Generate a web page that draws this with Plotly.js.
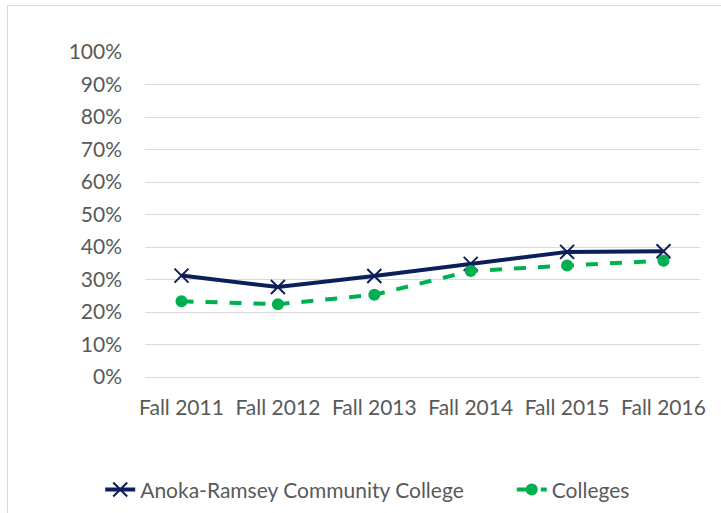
<!DOCTYPE html>
<html>
<head>
<meta charset="utf-8">
<script src="https://cdn.plot.ly/plotly-3.0.1.min.js"></script>
<style>
  html, body { margin: 0; padding: 0; background: #fff; overflow: hidden; }
  #frame { position: absolute; left: 7px; top: 5px; width: 730px; height: 530px; border: 1px solid #d9d9d9; box-sizing: border-box; }
  #chart { position: absolute; left: 0; top: 0; width: 721px; height: 513px; }
</style>
</head>
<body>
<div id="frame"></div>
<div id="chart"></div>
<script>
const categories = ["Fall 2011", "Fall 2012", "Fall 2013", "Fall 2014", "Fall 2015", "Fall 2016"];
const seriesNames = ["Anoka-Ramsey Community College", "Colleges"];
const anokaRamsey = [0.312, 0.277, 0.311, 0.348, 0.385, 0.387];
const colleges = [0.233, 0.224, 0.253, 0.326, 0.343, 0.358];
const yTickVals = [0, 0.1, 0.2, 0.3, 0.4, 0.5, 0.6, 0.7, 0.8, 0.9, 1.0];
const yTickText = ["0%", "10%", "20%", "30%", "40%", "50%", "60%", "70%", "80%", "90%", "100%"];

const fontFam = "Lato, 'Open Sans', sans-serif";
const pad = "\u00a0".repeat(8);

const traces = [
  {
    type: "scatter", mode: "lines+markers", name: seriesNames[0] + pad,
    x: categories, y: anokaRamsey,
    line: { color: "#0c1f5b", width: 4 },
    marker: { symbol: "x-thin", size: 14, line: { color: "#0c1f5b", width: 2 }, color: "#0c1f5b" }
  },
  {
    type: "scatter", mode: "lines+markers", name: seriesNames[1],
    x: categories, y: colleges,
    line: { color: "#00b050", width: 4, dash: "dash" },
    marker: { symbol: "circle", size: 12, color: "#00b050" }
  }
];

const layout = {
  width: 721, height: 513,
  paper_bgcolor: "rgba(0,0,0,0)", plot_bgcolor: "rgba(0,0,0,0)",
  margin: { l: 145, r: 21, t: 52, b: 136 },
  font: { family: fontFam, size: 20, color: "#595959" },
  showlegend: true,
  legend: {
    orientation: "h", xref: "container", x: 0.51, xanchor: "center",
    yref: "container", y: 0.045, yanchor: "middle",
    font: { family: fontFam, size: 21, color: "#595959" },
    itemwidth: 30, traceorder: "normal"
  },
  xaxis: {
    type: "category", showgrid: false, zeroline: false,
    showline: false, ticks: "", ticklabelstandoff: 16,
    tickfont: { family: fontFam, size: 21, color: "#595959" },
    fixedrange: true
  },
  yaxis: {
    range: [0, 1], tickvals: yTickVals, ticktext: yTickText,
    showgrid: true, gridcolor: "#d9d9d9", gridwidth: 1,
    zeroline: true, zerolinecolor: "#d9d9d9", zerolinewidth: 1,
    showline: false, ticks: "", ticklabelstandoff: 22,
    tickfont: { family: fontFam, size: 21, color: "#595959" },
    fixedrange: true
  }
};

Plotly.newPlot("chart", traces, layout, { displayModeBar: false, staticPlot: true });
</script>
</body>
</html>
